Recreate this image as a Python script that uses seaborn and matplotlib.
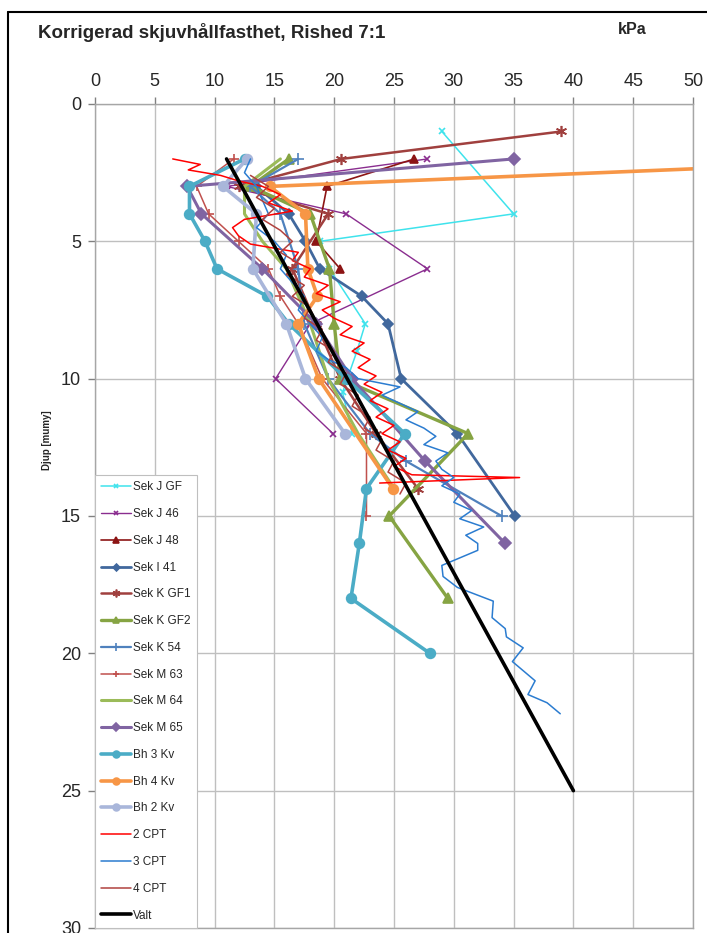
import matplotlib
matplotlib.use("Agg")
import matplotlib.pyplot as plt
import seaborn as sns
from matplotlib.lines import Line2D

sns.set_style("white")
plt.rcParams["font.family"] = ["Liberation Sans", "DejaVu Sans"]

# Data: skjuvhållfasthet (kPa) mot djup (m)
sek_j_gf_djup = [1, 4, 5, 6, 8, 9, 10.5, 12]
sek_j_gf_kpa = [29, 35, 18.8, 19.6, 22.6, 21.9, 20.7, 21.5]

sek_j46_djup = [2, 3, 4, 6, 8, 10, 12]
sek_j46_kpa = [27.8, 11, 21, 27.8, 18, 15.1, 19.9]

sek_j48_djup = [2, 3, 5, 6]
sek_j48_kpa = [26.7, 19.4, 18.5, 20.5]

sek_i41_djup = [3, 4, 5, 6, 7, 8, 10, 12, 15]
sek_i41_kpa = [13.5, 16.2, 17.6, 18.8, 22.3, 24.5, 25.6, 30.3, 35.1]

sek_kgf1_djup = [1, 2, 3, 4, 6, 8, 10, 12, 14]
sek_kgf1_kpa = [39, 20.6, 12, 19.5, 16.5, 18.5, 20.5, 23.5, 27]

sek_kgf2_djup = [2, 3, 4, 6, 8, 10, 12, 15, 18]
sek_kgf2_kpa = [16.2, 13, 18, 19.6, 20, 20.5, 31.2, 24.6, 29.5]

sek_k54_djup = [2, 3, 4, 6, 8, 10, 12, 13, 15]
sek_k54_kpa = [17, 13, 15.5, 17, 17.5, 19.5, 23, 26, 34]

sek_m63_djup = [2, 3, 4, 5, 6, 7, 8, 10, 12, 15]
sek_m63_kpa = [11.6, 8.5, 9.5, 12, 14.5, 15.5, 17, 19, 22.7, 22.7]

sek_m64_djup = [2, 3, 4, 5, 6, 7, 8, 10, 12, 14]
sek_m64_kpa = [15.5, 12.5, 12.5, 14, 16, 17, 18, 19.5, 22, 25]

sek_m65_djup = [2, 3, 4, 6, 8, 10, 13, 16]
sek_m65_kpa = [35, 7.7, 8.9, 14, 18.5, 21.5, 27.6, 34.3]

bh3_djup = [2, 3, 4, 5, 6, 7, 8, 10, 12, 14, 16, 18, 20]
bh3_kpa = [12.5, 7.9, 7.9, 9.2, 10.2, 14.4, 16.2, 21, 25.9, 22.7, 22.1, 21.4, 28]

bh4_djup = [2, 3, 4, 6, 7, 8, 10, 14]
bh4_kpa = [70, 14.6, 17.6, 17.8, 18.6, 17, 18.7, 24.9]

bh2_djup = [2, 3, 4, 6, 8, 10, 12]
bh2_kpa = [12.7, 10.7, 13.5, 13.2, 16, 17.6, 20.9]

cpt2_djup = [2.0, 2.2, 2.4, 2.6, 2.8, 3.0, 3.3, 3.6, 3.9, 4.2, 4.5, 4.8, 5.1, 5.4,
             5.7, 6.0, 6.3, 6.6, 6.9, 7.2, 7.5, 7.8, 8.1, 8.4, 8.7, 9.0, 9.3, 9.6,
             9.9, 10.2, 10.5, 10.8, 11.1, 11.4, 11.7, 12.0, 12.3, 12.6, 12.9, 13.2,
             13.5, 13.6, 13.8]
cpt2_kpa = [6.5, 8.8, 7.8, 10.5, 12.0, 14.0, 15.5, 14.5, 16.5, 12.5, 11.5, 12.0, 13.0, 17.0,
            16.5, 18.0, 17.5, 19.5, 18.5, 20.5, 19.0, 20.0, 21.5, 20.5, 22.5, 21.5, 23.0, 22.0,
            23.5, 22.5, 24.0, 23.0, 24.5, 23.5, 25.0, 24.0, 25.5, 24.5, 26.0, 25.0,
            26.5, 35.5, 23.8]

cpt3_djup = [2.0, 2.5, 3.0, 3.5, 4.0, 4.5, 5.0, 5.5, 6.0, 6.5, 7.0, 7.5, 8.0, 8.5,
             9.0, 9.3, 9.6, 10.0, 10.3, 10.6, 10.9, 11.2, 11.5, 11.8, 12.1, 12.4, 12.7,
             13.0, 13.3, 13.6, 13.9, 14.2, 14.5, 14.8, 15.1, 15.4, 15.7, 16.0, 16.25,
             16.8, 17.2, 17.6, 18.1, 18.7, 19.1, 19.4, 19.8, 20.3, 21.0, 21.5, 21.8, 22.2]
cpt3_kpa = [13.0, 12.5, 13.5, 14.0, 14.5, 13.5, 15.0, 16.0, 15.5, 16.5, 17.5, 17.0, 18.0, 19.0,
            18.5, 19.5, 21.0, 22.0, 25.5, 24.0, 25.5, 27.0, 26.0, 27.5, 28.5, 27.5, 29.5,
            28.5, 29.0, 30.0, 29.0, 30.5, 30.0, 31.5, 30.5, 32.5, 31.0, 32.0, 32.0,
            29.0, 29.1, 30.3, 33.3, 33.2, 34.3, 34.4, 35.8, 34.9, 36.8, 36.2, 37.8, 38.9]

cpt4_djup = [2.6, 3.0, 3.4, 3.8, 4.2, 4.6, 5.0, 5.4, 5.8, 6.2, 6.6, 7.0, 7.4, 7.8, 8.2,
             8.6, 9.0, 9.4, 9.8, 10.2, 10.6, 11.0, 11.4, 11.8, 12.2, 12.6, 13.0, 13.4,
             13.8, 14.2]
cpt4_kpa = [13.0, 14.5, 13.5, 15.0, 14.0, 15.5, 16.5, 15.5, 17.0, 16.0, 17.5, 16.5, 18.0, 17.5, 19.0,
            18.5, 20.0, 19.5, 21.0, 20.5, 22.0, 21.5, 23.0, 22.5, 24.0, 23.5, 25.0, 24.5,
            26.0, 25.5]

valt_djup = [2, 25]
valt_kpa = [11, 40]

serier = [
    ("Sek J GF", sek_j_gf_kpa, sek_j_gf_djup),
    ("Sek J 46", sek_j46_kpa, sek_j46_djup),
    ("Sek J 48", sek_j48_kpa, sek_j48_djup),
    ("Sek I 41", sek_i41_kpa, sek_i41_djup),
    ("Sek K GF1", sek_kgf1_kpa, sek_kgf1_djup),
    ("Sek K GF2", sek_kgf2_kpa, sek_kgf2_djup),
    ("Sek K 54", sek_k54_kpa, sek_k54_djup),
    ("Sek M 63", sek_m63_kpa, sek_m63_djup),
    ("Sek M 64", sek_m64_kpa, sek_m64_djup),
    ("Sek M 65", sek_m65_kpa, sek_m65_djup),
    ("Bh 3 Kv", bh3_kpa, bh3_djup),
    ("Bh 4 Kv", bh4_kpa, bh4_djup),
    ("Bh 2 Kv", bh2_kpa, bh2_djup),
    ("2 CPT", cpt2_kpa, cpt2_djup),
    ("3 CPT", cpt3_kpa, cpt3_djup),
    ("4 CPT", cpt4_kpa, cpt4_djup),
    ("Valt", valt_kpa, valt_djup),
]

# stil: färg, linjebredd, markör, markörstorlek
stil = {
    "Sek J GF": ("#3FE3EC", 1.1, "x", 5),
    "Sek J 46": ("#8A2D8F", 1.0, "x", 5),
    "Sek J 48": ("#8C1414", 1.2, "^", 6),
    "Sek I 41": ("#41689D", 2.0, "D", 5),
    "Sek K GF1": ("#A0403E", 1.8, (6, 2, 0), 8),
    "Sek K GF2": ("#86A443", 2.4, "^", 7),
    "Sek K 54": ("#4F81BD", 1.6, "+", 8),
    "Sek M 63": ("#C0504D", 1.1, "+", 7),
    "Sek M 64": ("#9BBB59", 2.2, None, 0),
    "Sek M 65": ("#8064A2", 2.2, "D", 6),
    "Bh 3 Kv": ("#4BACC6", 2.6, "o", 7),
    "Bh 4 Kv": ("#F79646", 2.6, "o", 7),
    "Bh 2 Kv": ("#A9B6DA", 2.6, "o", 7),
    "2 CPT": ("#FF0000", 1.1, None, 0),
    "3 CPT": ("#2B7CD0", 1.1, None, 0),
    "4 CPT": ("#B0413E", 1.1, None, 0),
    "Valt": ("#000000", 2.6, None, 0),
}

fig = plt.figure(figsize=(7.07, 9.33), dpi=100)
ax = fig.add_axes([95 / 707, 5 / 933, 598 / 707, 824 / 933])

for namn, kpa, djup in serier:
    farg, lw, mk, ms = stil[namn]
    kw = dict(color=farg, lw=lw, label=namn, ax=ax, sort=False, estimator=None)
    if mk is not None:
        kw.update(marker=mk, markersize=ms, markeredgecolor=farg,
                  markerfacecolor=farg, markeredgewidth=1.2)
    sns.lineplot(x=kpa, y=djup, **kw)

ax.set_xlim(0, 50)
ax.set_ylim(30, 0)
ax.xaxis.tick_top()
ax.set_xticks(range(0, 51, 5))
ax.set_yticks(range(0, 31, 5))
ax.grid(True, color="#BFBFBF", lw=1)
ax.set_axisbelow(True)
ax.tick_params(axis="both", labelsize=13, length=5, width=1, color="#808080",
               direction="out", pad=5)
ax.tick_params(axis="x", top=True, bottom=False)
ax.tick_params(axis="y", left=True)
for sp in ax.spines.values():
    sp.set_color("#A6A6A6")
    sp.set_linewidth(1)
ax.set_xlabel("")
ax.set_ylabel("")

leg = ax.legend(loc="lower left", bbox_to_anchor=(0, 0), borderaxespad=0,
                fontsize=8.5, frameon=True, fancybox=False, edgecolor="#BFBFBF",
                labelspacing=1.25, handlelength=2.5, handletextpad=0.15,
                borderpad=0.55, numpoints=1, markerscale=0.7)
leg.get_frame().set_linewidth(0.8)
leg.get_frame().set_alpha(1)

fig.text(38 / 707, 1 - 32 / 933, "Korrigerad skjuvhållfasthet, Rished 7:1",
         fontsize=13.5, fontweight="bold", ha="left", va="center")
fig.text(618 / 707, 1 - 30 / 933, "kPa", fontsize=11.5, fontweight="bold",
         ha="left", va="center")
fig.text(47 / 707, 1 - 440 / 933, "Djup [mumy]", fontsize=7, fontweight="bold",
         rotation=90, ha="center", va="center")

# ram runt diagrammet
fig.add_artist(Line2D([8 / 707, 8 / 707], [0, 1 - 12 / 933], color="black",
                      lw=1.5, transform=fig.transFigure))
fig.add_artist(Line2D([8 / 707, 1], [1 - 12 / 933, 1 - 12 / 933], color="black",
                      lw=1.5, transform=fig.transFigure))

fig.savefig("out.png", dpi=100)
